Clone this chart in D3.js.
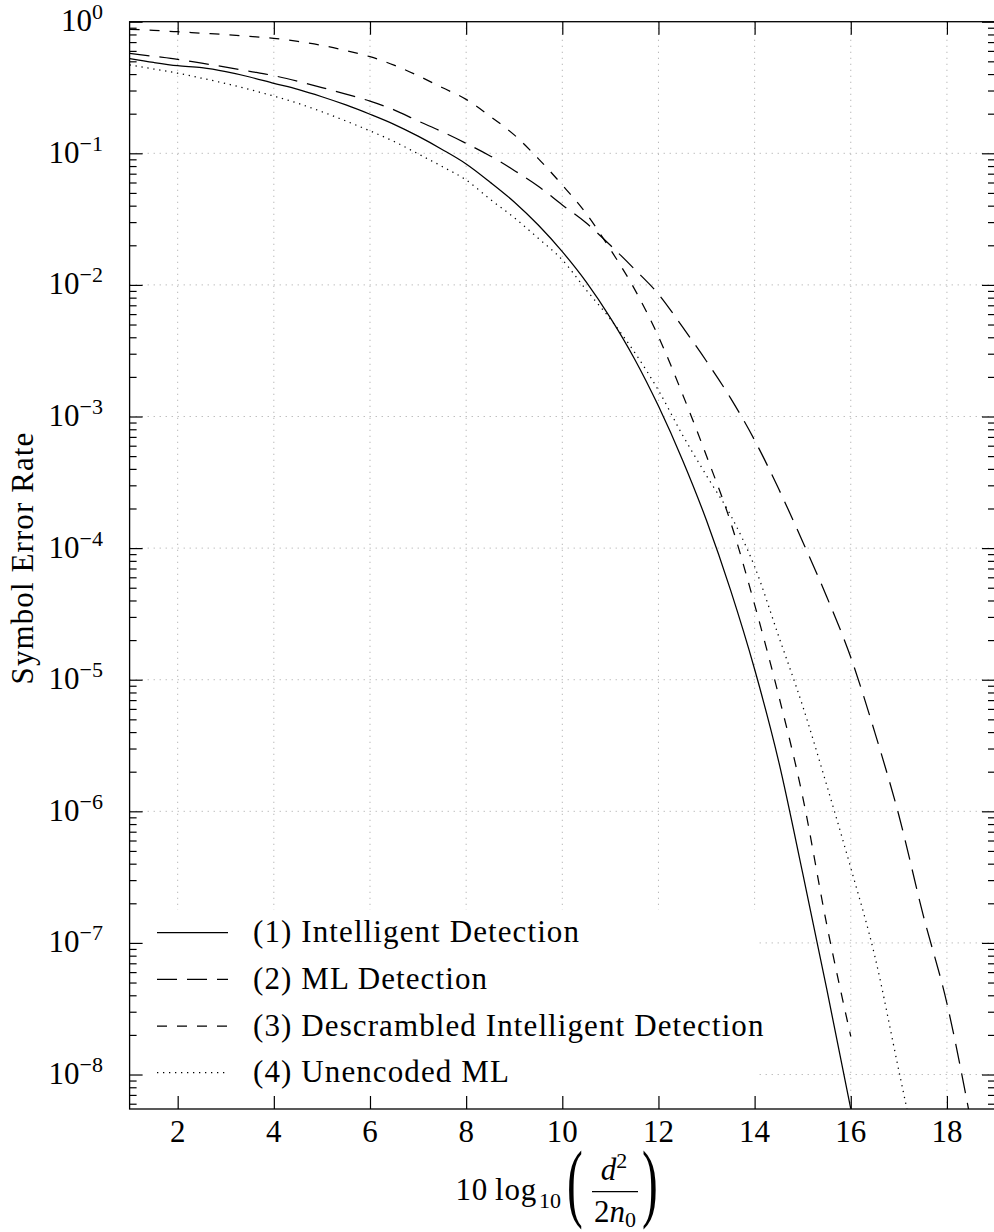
<!DOCTYPE html>
<html><head><meta charset="utf-8">
<script src="https://cdn.jsdelivr.net/npm/d3@7"></script>
<style>body{margin:0;background:#fff}svg{display:block}</style>
</head><body>
<svg id="chart" width="994" height="1232"></svg>
<script>
// ---------- data ----------
const snrDb = [1,1.5,2,2.5,3,3.5,4,4.5,5,5.5,6,6.5,7,7.5,8,8.5,9,9.5,10,10.5,11,11.5,12,12.5,13,13.5,14,14.5,15,15.5,16,16.5,17,17.5,18,18.5];
const serIntelligent = [0.524,0.490,0.463,0.447,0.417,0.380,0.340,0.306,0.269,0.233,0.198,0.166,0.135,0.107,0.0830,0.0603,0.0427,0.0285,0.0179,0.0105,0.00562,0.00275,0.00120,4.68e-4,1.62e-4,4.79e-5,1.20e-5,2.40e-6,3.39e-7,4.47e-8,5.50e-9];
const serML = [0.575,0.546,0.518,0.484,0.452,0.420,0.389,0.353,0.316,0.282,0.249,0.214,0.176,0.146,0.119,0.0955,0.0741,0.0562,0.0405,0.0295,0.0200,0.0132,0.00851,0.00479,0.00263,0.00138,6.61e-4,2.82e-4,1.12e-4,4.27e-5,1.48e-5,3.98e-6,9.33e-7,1.66e-7,3.47e-8,4.37e-9];
const serDescrambled = [0.875,0.859,0.839,0.818,0.798,0.774,0.748,0.708,0.661,0.603,0.542,0.468,0.389,0.316,0.257,0.191,0.138,0.0912,0.0574,0.0347,0.0186,0.00933,0.00405,0.00148,5.01e-4,1.58e-4,3.72e-5,7.59e-6,1.29e-6,1.38e-7,1.95e-8];
const serUnencoded = [0.469,0.437,0.406,0.372,0.339,0.305,0.272,0.240,0.207,0.176,0.148,0.123,0.0991,0.0794,0.0627,0.0447,0.0324,0.0226,0.0155,0.00914,0.00550,0.00309,0.00158,7.24e-4,3.55e-4,1.78e-4,7.24e-5,2.14e-5,6.31e-6,1.58e-6,3.72e-7,7.94e-8,1.07e-8,1.45e-9];
const xTickValues = [2,4,6,8,10,12,14,16,18];
const yDecadeExponents = [0,-1,-2,-3,-4,-5,-6,-7,-8];
const legendLabels = ["(1) Intelligent Detection","(2) ML Detection","(3) Descrambled Intelligent Detection","(4) Unencoded ML"];
const yAxisTitle = "Symbol Error Rate";

// ---------- layout ----------
const FONT = "'Liberation Serif','Times New Roman',serif";
const FS = 31;
const L = 129.6, R = 995, T = 21.7, B = 1109;
const svg = d3.select("#chart");
const x = d3.scaleLinear().domain([1,19]).range([L,R]);
const y = d3.scaleLog().domain([1,5.47e-9]).range([T,B]);

const series = [
  {vals: serIntelligent, dash: null},
  {vals: serML, dash: "20,10"},
  {vals: serDescrambled, dash: "10,10"},
  {vals: serUnencoded, dash: "1.3,4.7"}
];

svg.append("defs").append("clipPath").attr("id","clip")
  .append("rect").attr("x",L).attr("y",T).attr("width",R-L).attr("height",B-T);

// grid
const grid = svg.append("g").attr("stroke","#b8b8b8").attr("stroke-width",1).attr("stroke-dasharray","1.3,4.7").attr("fill","none");
grid.selectAll("line.gx").data(xTickValues).join("line").attr("class","gx")
  .attr("x1",d=>x(d)).attr("x2",d=>x(d)).attr("y1",T).attr("y2",B);
grid.selectAll("line.gy").data(yDecadeExponents.filter(e=>e<0)).join("line").attr("class","gy")
  .attr("y1",d=>y(Math.pow(10,d))).attr("y2",d=>y(Math.pow(10,d))).attr("x1",L).attr("x2",R);

// curves
const line = d3.line().x(d=>x(d[0])).y(d=>y(d[1])).curve(d3.curveMonotoneX);
const plot = svg.append("g").attr("clip-path","url(#clip)");
series.forEach(s=>{
  const pts = s.vals.map((v,i)=>[snrDb[i],v]);
  plot.append("path").datum(pts).attr("d",line).attr("fill","none")
    .attr("stroke","#000").attr("stroke-width",1.25)
    .attr("stroke-dasharray",s.dash);
});

// legend
const lg = svg.append("g");
lg.append("rect").attr("x",L).attr("y",910).attr("width",756-L).attr("height",B-910).attr("fill","#fff");
const rowY = [932.7,979.3,1026,1072.7];
legendLabels.forEach((lab,i)=>{
  lg.append("line").attr("x1",157).attr("x2",228).attr("y1",rowY[i]).attr("y2",rowY[i])
    .attr("stroke","#000").attr("stroke-width",1.25).attr("stroke-dasharray",series[i].dash);
  lg.append("text").attr("x",253).attr("y",rowY[i]+9.5).attr("font-family",FONT).attr("font-size",FS)
    .attr("letter-spacing",1.1).text(lab);
});

// axes ticks
const minorVals = [];
for (let e=0;e>=-9;e--) for (let m=2;m<=9;m++){const v=m*Math.pow(10,e-1); if(v<=1 && v>=5.47e-9) minorVals.push(v);}
const decVals = yDecadeExponents.map(e=>Math.pow(10,e));
function addAxis(gen, tx, ty){
  const g = svg.append("g").attr("transform",`translate(${tx},${ty})`).call(gen);
  g.select(".domain").remove();
  g.selectAll("text").remove();
  g.selectAll("line").attr("stroke","#000").attr("stroke-width",1.2);
  return g;
}
addAxis(d3.axisBottom(x).tickValues(xTickValues).tickSize(-13).tickFormat(""),0,B);
addAxis(d3.axisTop(x).tickValues(xTickValues).tickSize(-13).tickFormat(""),0,T);
addAxis(d3.axisLeft(y).tickValues(decVals).tickSize(-13).tickFormat(""),L,0);
addAxis(d3.axisLeft(y).tickValues(minorVals).tickSize(-7).tickFormat(""),L,0);
addAxis(d3.axisRight(y).tickValues(decVals).tickSize(-13).tickFormat(""),R,0);
addAxis(d3.axisRight(y).tickValues(minorVals).tickSize(-7).tickFormat(""),R,0);

// frame
svg.append("rect").attr("x",L).attr("y",T).attr("width",R-L).attr("height",B-T)
  .attr("fill","none").attr("stroke","#000").attr("stroke-width",1.3);

// x tick labels
svg.append("g").selectAll("text").data(xTickValues).join("text")
  .attr("x",d=>x(d)).attr("y",1141.7).attr("text-anchor","middle")
  .attr("font-family",FONT).attr("font-size",FS).text(d=>d);

// y tick labels
const yl = svg.append("g").selectAll("text").data(yDecadeExponents).join("text")
  .attr("x",103).attr("y",d=>y(Math.pow(10,d))+9.5).attr("text-anchor","end")
  .attr("font-family",FONT).attr("font-size",FS);
yl.append("tspan").text("10");
yl.append("tspan").attr("font-size",22).attr("dy",-12).text(d=>d===0?"0":"\u2212"+(-d));

// y axis title
svg.append("text").attr("transform","translate(33,558) rotate(-90)").attr("text-anchor","middle")
  .attr("font-family",FONT).attr("font-size",FS).attr("letter-spacing",1.1).text(yAxisTitle);

// x axis title: 10 log10 ( d^2 / 2 n0 )
const xt = svg.append("g").attr("font-family",FONT).attr("font-size",FS);
xt.append("text").attr("x",537).attr("y",1200).attr("text-anchor","end").attr("letter-spacing",0.8).text("10\u2009log");
xt.append("text").attr("x",539).attr("y",1208).attr("font-size",22).text("10");
[[575,"("],[650,")"]].forEach(([cx,ch])=>{
  xt.append("text").attr("x",cx).attr("y",1211).attr("text-anchor","middle")
    .attr("transform",`translate(${cx},0) scale(0.55,1) translate(${-cx},0)`).attr("font-size",86).text(ch);
});
const num = xt.append("text").attr("x",614).attr("y",1180).attr("text-anchor","middle");
num.append("tspan").attr("font-style","italic").text("d");
num.append("tspan").attr("font-size",22).attr("dy",-12).text("2");
xt.append("line").attr("x1",592).attr("x2",638).attr("y1",1191.7).attr("y2",1191.7).attr("stroke","#000").attr("stroke-width",1.3);
const den = xt.append("text").attr("x",615).attr("y",1221.7).attr("text-anchor","middle");
den.append("tspan").text("2");
den.append("tspan").attr("font-style","italic").text("n");
den.append("tspan").attr("font-size",22).attr("dy",5).text("0");
</script>
</body></html>
